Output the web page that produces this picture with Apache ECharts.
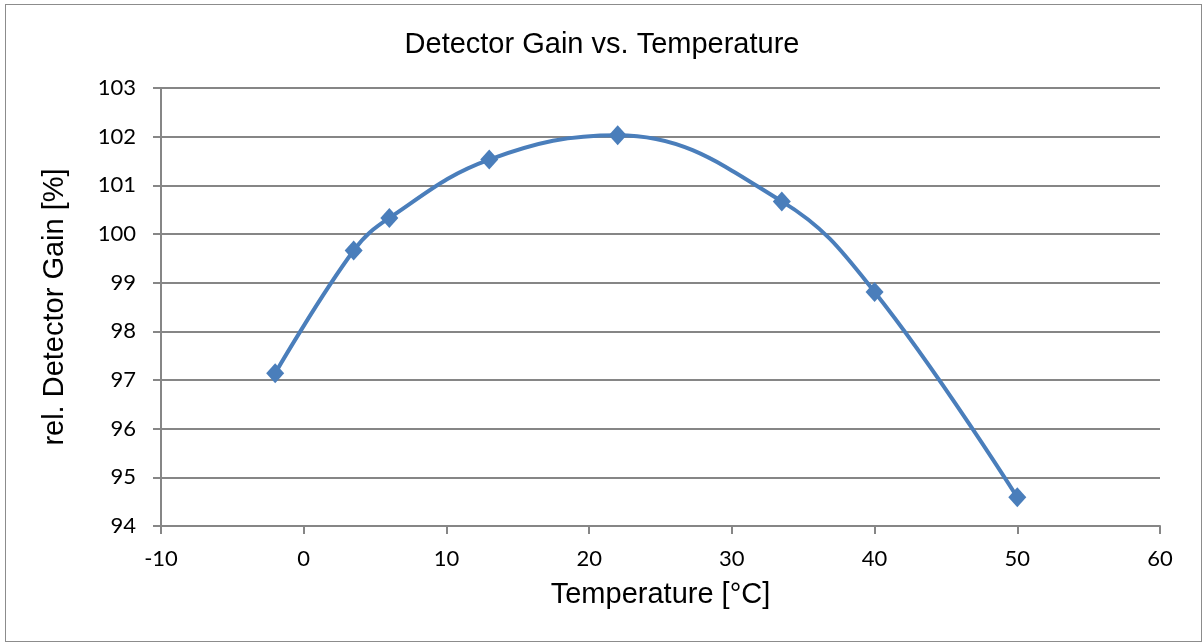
<!DOCTYPE html>
<html>
<head>
<meta charset="utf-8">
<title>Detector Gain vs. Temperature</title>
<script src="https://cdn.jsdelivr.net/npm/echarts@6/dist/echarts.min.js"></script>
<style>
	html, body { margin: 0; padding: 0; background: #fff; }
	#main { width: 1204px; height: 644px; }
	.frame { position: absolute; left: 5px; top: 4px; width: 1195px; height: 636px; border: 1px solid #8c8c8c; pointer-events: none; }
</style>
</head>
<body>
<div id="main"></div>
<div class="frame"></div>
<script>
	// Messwerte
	var temperature = [-2, 3.5, 6, 13, 22, 33.5, 40, 50];
	var gain = [97.14, 99.66, 100.33, 101.53, 102.03, 100.67, 98.81, 94.59];

	var chart = echarts.init(document.getElementById('main'));
	var axisGray = '#868686';
	var tickFont = 'Lato, "Open Sans", sans-serif';
	var titleFont = '"Liberation Sans", Arial, sans-serif';

	chart.setOption({
		animation: false,
		title: {
			text: 'Detector Gain vs. Temperature',
			left: 'center',
			top: 25,
			textStyle: {
				fontFamily: titleFont,
				fontSize: 29,
				fontWeight: 'normal',
				color: '#000'
			}
		},
		grid: {
			left: 161,
			right: 44,
			top: 88,
			bottom: 118
		},
		xAxis: {
			type: 'value',
			min: -10,
			max: 60,
			interval: 10,
			name: 'Temperature [°C]',
			nameLocation: 'middle',
			nameGap: 54,
			nameTextStyle: {
				fontFamily: titleFont,
				fontSize: 29,
				color: '#000'
			},
			axisLine: { show: true, onZero: false, lineStyle: { color: axisGray, width: 2 } },
			axisTick: { show: true, length: 8, lineStyle: { color: axisGray, width: 2 } },
			splitLine: { show: false },
			axisLabel: {
				margin: 22,
				fontFamily: tickFont,
				fontSize: 22,
				color: '#000'
			}
		},
		yAxis: {
			type: 'value',
			min: 94,
			max: 103,
			interval: 1,
			name: 'rel. Detector Gain [%]',
			nameLocation: 'middle',
			nameGap: 92,
			nameTextStyle: {
				fontFamily: titleFont,
				fontSize: 29,
				color: '#000'
			},
			axisLine: { show: true, onZero: false, lineStyle: { color: axisGray, width: 2 } },
			axisTick: { show: true, length: 8, lineStyle: { color: axisGray, width: 2 } },
			splitLine: { show: true, lineStyle: { color: axisGray, width: 2 } },
			axisLabel: {
				margin: 25,
				fontFamily: tickFont,
				fontSize: 22,
				color: '#000'
			}
		},
		series: [{
			name: 'rel. Detector Gain',
			type: 'line',
			smooth: 0.4,
			data: temperature.map(function(t, i) { return [t, gain[i]]; }),
			symbol: 'diamond',
			symbolSize: [18, 20],
			itemStyle: { color: '#4a7ebb' },
			lineStyle: { color: '#4a7ebb', width: 4 }
		}]
	});
</script>
</body>
</html>
